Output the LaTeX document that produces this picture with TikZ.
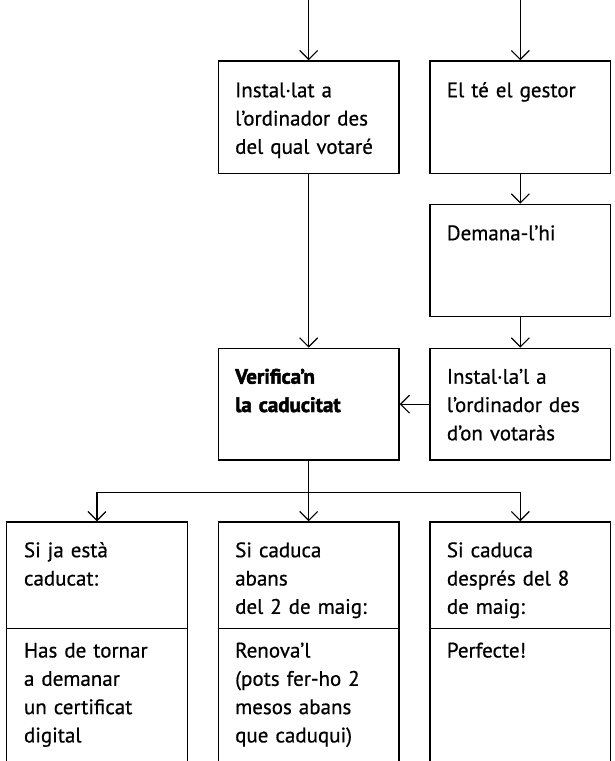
\documentclass[tikz,border=0pt]{standalone}
\usepackage{fontspec}
\setmainfont{PT Sans}
\newfontfamily\bodyfont{PT Sans}[FakeBold=0.6]
\newfontfamily\heavyfont{PT Sans Bold}[FakeBold=2.2]
\usetikzlibrary{arrows.meta}
\begin{document}
\begin{tikzpicture}[x=1pt,y=-1pt,
  box/.style={draw=black,line width=1.4pt,fill=white,rectangle,inner sep=0pt,minimum width=180.7pt},
  arr/.style={draw=black,line width=1.2pt,-{Straight Barb[length=9pt,width=18pt,line width=1.2pt]}},
  txt/.style={anchor=north west,inner sep=0pt,text width=175pt,align=left,font=\bodyfont\fontsize{21}{28.3}\selectfont},
]
\useasboundingbox[fill=white] (0,0) rectangle (614,761);
% boxes
\node[box,minimum height=112.3pt] (n1) at (308.65,117.15) {};
\node[box,minimum height=112.3pt] (n2) at (520.35,117.15) {};
\node[box,minimum height=112.4pt] (dem) at (520.35,260.5) {};
\node[box,minimum height=111.7pt] (ver) at (308.65,404.15) {};
\node[box,minimum height=111.7pt] (ins) at (520.35,404.15) {};
\node[box,minimum height=106.3pt] (c1t) at (96.95,575.15) {};
\node[box,minimum height=106.3pt] (c2t) at (308.65,575.15) {};
\node[box,minimum height=106.3pt] (c3t) at (520.35,575.15) {};
\node[box,minimum height=146.7pt] (c1b) at (96.95,701.65) {};
\node[box,minimum height=146.7pt] (c2b) at (308.65,701.65) {};
\node[box,minimum height=146.7pt] (c3b) at (520.35,701.65) {};
% connectors
\coordinate (s1) at (308.65,-2);
\coordinate (s2) at (520.35,-2);
\coordinate (br) at (308.65,492.3);
\draw[arr] (s1) -- (n1.north);
\draw[arr] (s2) -- (n2.north);
\draw[arr] (n2.south) -- (dem.north);
\draw[arr] (dem.south) -- (ins.north);
\draw[arr] (n1.south) -- (ver.north);
\draw[arr] (ins.west) -- (ver.east);
\draw[arr] (ver.south) -- (c2t.north);
\draw[arr] (br) -| (c1t.north);
\draw[arr] (br) -| (c3t.north);
% texts
\node[txt] (tx1) at (235,77.2) {\strut Instal·lat a\\ l’ordinador des\\ del qual votaré};
\node[txt] (tx2) at (446.7,77.2) {\strut El té el gestor};
\node[txt] (tx3) at (446.7,220.2) {\strut Demana-l’hi};
\node[txt] (tx4) at (235,363.7) {\strut\heavyfont Verifica’n\\ la caducitat};
\node[txt] (tx5) at (446.7,363.7) {\strut Instal·la’l a\\ l’ordinador des\\ d’on votaràs};
\node[txt] (tx6) at (23.8,537.2) {\strut Si ja està\\ caducat:};
\node[txt] (tx7) at (235,537.2) {\strut Si caduca\\ abans\\ del 2 de maig:};
\node[txt] (tx8) at (446.7,537.2) {\strut Si caduca\\ després del 8\\ de maig:};
\node[txt] (tx9) at (23.8,637.5) {\strut Has de tornar\\ a demanar\\ un certificat\\ digital};
\node[txt] (tx10) at (235,637.5) {\strut Renova’l\\ (pots fer-ho 2\\ mesos abans\\ que caduqui)};
\node[txt] (tx11) at (446.7,637.5) {\strut Perfecte!};
\end{tikzpicture}
\end{document}
